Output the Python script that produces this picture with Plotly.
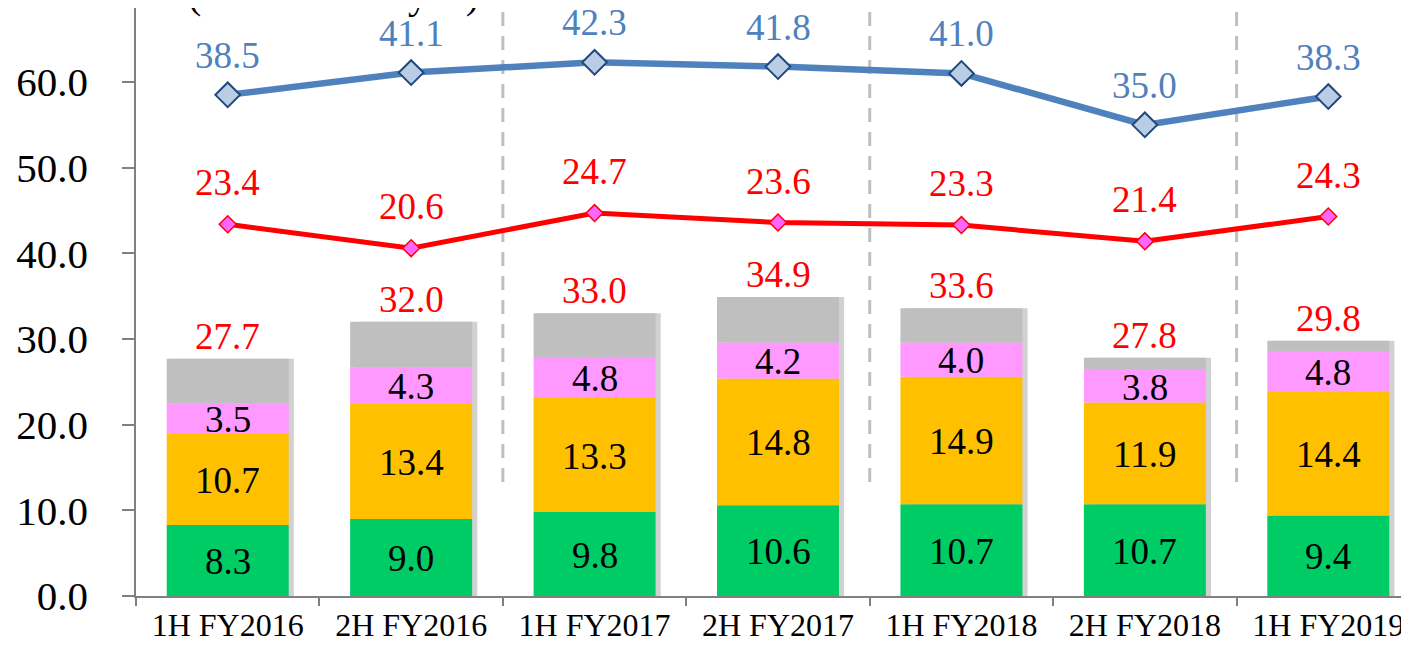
import plotly.graph_objects as go

categories = ["1H FY2016", "2H FY2016", "1H FY2017", "2H FY2017", "1H FY2018", "2H FY2018", "1H FY2019"]
seg_green = [8.3, 9.0, 9.8, 10.6, 10.7, 10.7, 9.4]
seg_orange = [10.7, 13.4, 13.3, 14.8, 14.9, 11.9, 14.4]
seg_pink = [3.5, 4.3, 4.8, 4.2, 4.0, 3.8, 4.8]
totals = [27.7, 32.0, 33.0, 34.9, 33.6, 27.8, 29.8]
blue_vals = [38.5, 41.1, 42.3, 41.8, 41.0, 35.0, 38.3]
red_vals = [23.4, 20.6, 24.7, 23.6, 23.3, 21.4, 24.3]
divider_positions = [1.5, 3.5, 5.5]
unit_label = "(Unit: billion yen)"

LINE_OFFSET = 20.0  # lines are drawn shifted up on the shared axis
FONT = "Liberation Serif"
BAR_W = 0.665
Y_TOP = 68.64

seg_gray = [round(t - g - o - p, 2) for t, g, o, p in zip(totals, seg_green, seg_orange, seg_pink)]
segments = [
    (seg_green, "#00CC66", True),
    (seg_orange, "#FFC000", True),
    (seg_pink, "#FF99FF", True),
    (seg_gray, "#BFBFBF", False),
]

fig = go.Figure()

# soft shadow behind the stacks
fig.add_trace(go.Bar(
    x=categories, y=totals, width=BAR_W, offset=-BAR_W / 2 + 0.028,
    marker=dict(color="rgba(0,0,0,0.18)", line=dict(width=0)),
    hoverinfo="skip", showlegend=False,
))

annotations = []
base = [0.0] * len(categories)
for vals, color, labelled in segments:
    fig.add_trace(go.Bar(
        x=categories, y=vals, base=list(base), width=BAR_W, offset=-BAR_W / 2,
        marker=dict(color=color, line=dict(width=0)), showlegend=False,
    ))
    if labelled:
        for c, b, v in zip(categories, base, vals):
            annotations.append(dict(
                x=c, y=b + v / 2, xref="x", yref="y", text=f"{v:.1f}", showarrow=False,
                font=dict(family=FONT, size=37, color="black"), yshift=-1,
            ))
    base = [b + v for b, v in zip(base, vals)]

for c, t in zip(categories, totals):
    annotations.append(dict(
        x=c, y=t, xref="x", yref="y", text=f"{t:.1f}", showarrow=False,
        yanchor="bottom", yshift=0, font=dict(family=FONT, size=37, color="#FF0000"),
    ))

blue_plot = [v + LINE_OFFSET for v in blue_vals]
red_plot = [v + LINE_OFFSET for v in red_vals]

fig.add_trace(go.Scatter(
    x=categories, y=blue_plot, mode="lines+markers",
    line=dict(color="#4F81BD", width=6.5),
    marker=dict(symbol="diamond", size=19, color="#B9CDE5", line=dict(color="#1F497D", width=2)),
    showlegend=False,
))
fig.add_trace(go.Scatter(
    x=categories, y=red_plot, mode="lines+markers",
    line=dict(color="#FF0000", width=5),
    marker=dict(symbol="diamond", size=13, color="#FF66FF", line=dict(color="#FF0000", width=1.5)),
    showlegend=False,
))

for c, v, p in zip(categories, blue_vals, blue_plot):
    annotations.append(dict(
        x=c, y=p, xref="x", yref="y", text=f"{v:.1f}", showarrow=False,
        yanchor="bottom", yshift=17, font=dict(family=FONT, size=37, color="#4F81BD"),
    ))
for c, v, p in zip(categories, red_vals, red_plot):
    annotations.append(dict(
        x=c, y=p, xref="x", yref="y", text=f"{v:.1f}", showarrow=False,
        yanchor="bottom", yshift=19, font=dict(family=FONT, size=37, color="#FF0000"),
    ))

annotations.append(dict(
    x=0.155, y=1, xref="paper", yref="paper", text=unit_label, showarrow=False,
    xanchor="center", yanchor="middle", yshift=14,
    font=dict(family=FONT, size=40, color="black"),
))

shapes = [
    dict(type="line", xref="x", yref="y", x0=d, x1=d, y0=13.3, y1=Y_TOP,
         line=dict(color="#BFBFBF", width=3, dash="14px,10px"), layer="below")
    for d in divider_positions
]

fig.update_layout(
    width=1401, height=637,
    margin=dict(l=128, r=0, t=0, b=49),
    paper_bgcolor="white", plot_bgcolor="white",
    barmode="overlay",
    annotations=annotations, shapes=shapes,
    font=dict(family=FONT, color="black"),
)
fig.update_xaxes(
    type="category", range=[-0.5, 6.44], tickson="boundaries",
    ticks="outside", ticklen=8, tickwidth=1.5, tickcolor="#808080",
    showline=True, linecolor="#808080", linewidth=1.5, showgrid=False,
    tickfont=dict(family=FONT, size=32, color="black"),
)
fig.update_yaxes(
    range=[0, Y_TOP], dtick=10, tickformat=".1f",
    ticks="outside", ticklen=12, tickwidth=1.5, tickcolor="#808080",
    showline=True, linecolor="#808080", linewidth=1.5, showgrid=False, zeroline=False,
    tickfont=dict(family=FONT, size=41, color="black"), ticklabelstandoff=26,
)

fig.write_html("out.html")
